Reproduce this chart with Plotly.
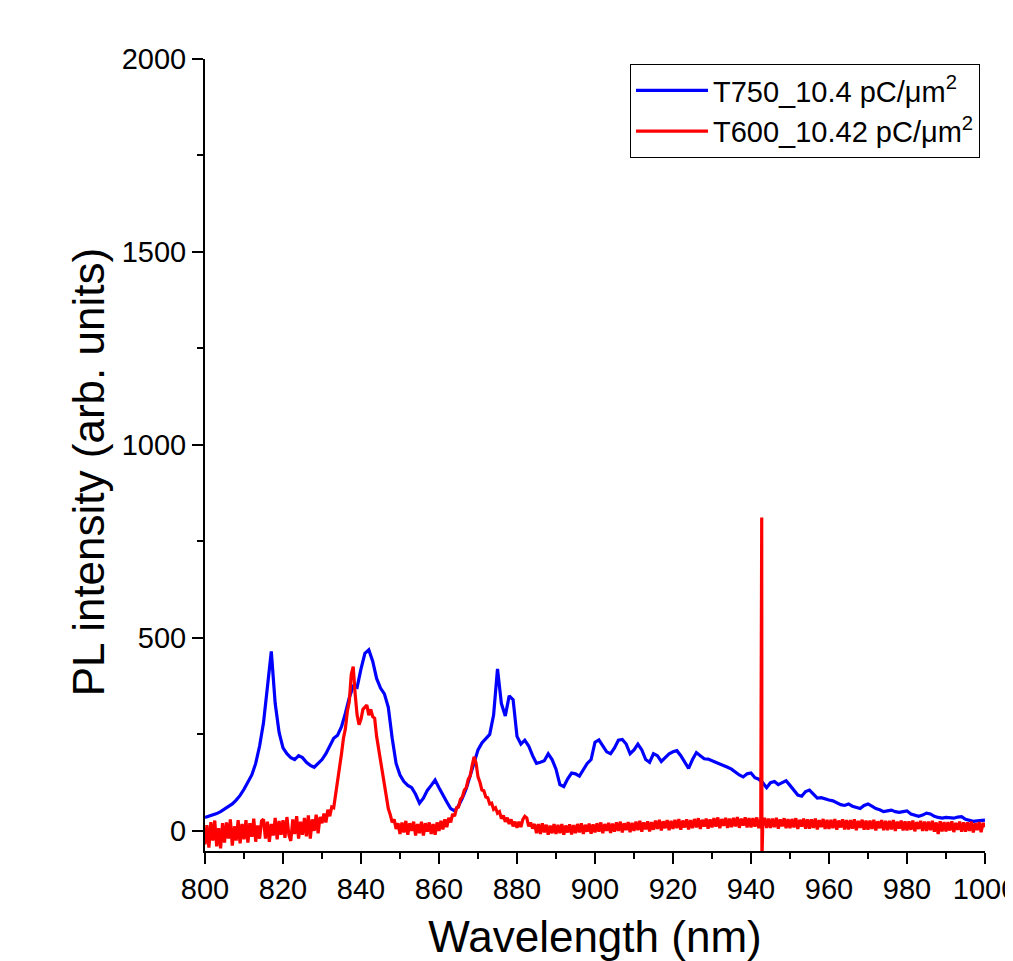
import plotly.graph_objects as go

# ---------------- data ----------------
blue_name = "T750_10.4 pC/\u03bcm<sup>2</sup>"
red_name = "T600_10.42 pC/\u03bcm<sup>2</sup>"
x_title = "Wavelength (nm)"
y_title = "PL intensity (arb. units)"

# T750 spectrum, sampled every 1 nm from 800 to 1000 nm
blue_wl = list(range(800, 1001))
blue_int = [
    35, 38, 42, 45, 50, 56, 62, 70, 80, 92,
    108, 125, 145, 175, 220, 280, 380, 465, 330, 255,
    215, 200, 190, 185, 195, 190, 178, 170, 165, 175,
    185, 200, 220, 240, 248, 270, 305, 345, 375, 372,
    420, 460, 469, 440, 395, 370, 355, 320, 240, 175,
    145, 128, 118, 112, 95, 72, 85, 105, 118, 132,
    112, 92, 75, 58, 52, 65, 85, 110, 145, 180,
    210, 228, 238, 250, 300, 420, 330, 298, 350, 340,
    245, 225, 235, 220, 195, 175, 178, 182, 200, 185,
    160, 120, 115, 135, 150, 148, 142, 160, 175, 185,
    230, 236, 220, 205, 200, 215, 235, 237, 225, 200,
    210, 225, 210, 185, 178, 200, 195, 180, 190, 200,
    205, 208, 195, 180, 162, 185, 203, 195, 187, 186,
    182, 178, 175, 170, 165, 160, 152, 145, 140, 148,
    150, 138, 134, 125, 112, 125, 128, 120, 125, 130,
    118, 105, 93, 90, 102, 106, 95, 85, 86, 82,
    80, 78, 72, 68, 66, 70, 64, 60, 58, 66,
    70, 64, 58, 55, 50, 52, 54, 50, 48, 50,
    52, 44, 40, 38, 41, 46, 44, 38, 35, 33,
    35, 34, 33, 36, 37, 30, 27, 25, 26, 27,
    28,
]

# T600 spectrum, sampled every 0.5 nm from 800 to 1000 nm
red_wl = [800 + 0.5 * i for i in range(401)]
red_int = [
    -35, 15, -43, 23, -25, 27, -40, 7, -45, 20,
    -30, 22, -20, 30, -38, 12, -25, 28, -32, 18,
    -22, 28, -30, 20, -15, 32, -28, 14, -20, 26,
    30, -20, 24, -28, 18, -12, 34, -22, 26, -10,
    28, -18, 36, -10, -26, 30, -8, 38, -20, 24,
    -10, 34, -14, 40, -20, 30, 0, 42, -6, 36,
    20, 45, 22, 55, 38, 62, 60, 95, 118, 165,
    200, 240, 265, 310, 335, 405, 426, 355, 300, 275,
    290, 315, 322, 326, 300, 315, 296, 292, 245, 212,
    178, 152, 118, 92, 58, 42, 22, 30, 5, 20,
    -8, 22, -4, 26, -10, 20, 0, 24, -12, 18,
    -6, 24, -12, 20, -2, 22, -8, 18, -10, 22,
    0, 26, 4, 30, 10, 34, 22, 44, 38, 60,
    62, 82, 88, 106, 112, 134, 142, 170, 192, 176,
    140, 126, 106, 104, 88, 86, 70, 72, 56, 60,
    46, 50, 32, 40, 24, 34, 18, 30, 12, 24,
    8, 24, 10, 30, 38, 34, 12, 22, 6, 18,
    -6, 18, -8, 20, -4, 16, -10, 14, -6, 18,
    -8, 16, -6, 18, -10, 14, -4, 17, -9, 15,
    -6, 18, -4, 20, -8, 16, -2, 19, -7, 17,
    -4, 20, -2, 22, -6, 18, 0, 21, -5, 19,
    -2, 22, 0, 24, -4, 20, 2, 23, -3, 21,
    0, 24, 2, 26, -2, 22, 4, 25, -1, 23,
    3, 27, 5, 29, 1, 25, 7, 28, 2, 26,
    5, 29, 7, 31, 3, 27, 9, 30, 4, 28,
    7, 31, 9, 33, 5, 29, 11, 32, 6, 30,
    9, 33, 11, 35, 7, 31, 13, 34, 8, 32,
    10, 34, 12, 36, 8, 32, 14, 35, 9, 33,
    9, 33, 11, 35, 7, 31, 13, 34, 8, 32,
    8, 32, 10, 34, 6, 30, 12, 33, 7, 31,
    7, 31, 9, 33, 5, 29, 11, 32, 6, 30,
    6, 30, 8, 32, 4, 28, 10, 31, 5, 29,
    5, 29, 7, 31, 3, 27, 9, 30, 4, 28,
    4, 28, 6, 30, 2, 26, 8, 29, 3, 27,
    3, 27, 5, 29, 1, 25, 7, 28, 2, 26,
    2, 26, 4, 28, 0, 24, 6, 27, 1, 25,
    1, 25, 3, 27, -1, 23, 5, 26, 0, 24,
    0, 24, 2, 26, -2, 22, -8, 25, -1, 23,
    -1, 23, 1, 25, -3, 21, 3, 24, -2, 22,
    -2, 22, 0, 24, -4, 20, 2, 23, -3, 21,
    10,
]

# narrow spike in the T600 spectrum
spike_wl = [942.7, 942.75, 942.8]
spike_int = [810, 812, -80]

x_ticks = list(range(800, 1001, 20))
y_ticks = [0, 500, 1000, 1500, 2000]

# merge spike into red series
red_all = sorted(zip(red_wl + spike_wl, red_int + spike_int), key=lambda p: p[0])
red_x = [p[0] for p in red_all]
red_y = [p[1] for p in red_all]

FONT = "Arial, Liberation Sans, sans-serif"

fig = go.Figure()
fig.add_trace(go.Scatter(x=blue_wl, y=blue_int, mode="lines", name=blue_name,
                         line=dict(color="#0000FF", width=3.2)))
fig.add_trace(go.Scatter(x=red_x, y=red_y, mode="lines", name=red_name,
                         line=dict(color="#FF0000", width=3.2)))

axis_common = dict(
    showline=True, linecolor="black", linewidth=2,
    ticks="outside", tickcolor="black", tickwidth=2, ticklen=11,
    showgrid=False, zeroline=False, mirror=False, automargin=False,
    ticklabeloverflow="allow",
    tickfont=dict(family=FONT, size=29, color="black"),
)

# page body adds an 8px offset, so the figure is sized to fit inside the window
fig.update_layout(
    width=1005, height=953,
    margin=dict(l=197, r=28, t=51, b=110),
    paper_bgcolor="white", plot_bgcolor="white",
    font=dict(family=FONT, color="black"),
    xaxis=dict(range=[800, 1000.0001], tickvals=x_ticks,
               minor=dict(dtick=10, ticks="outside", ticklen=6, tickwidth=2, tickcolor="black"),
               title=dict(text=x_title, font=dict(family=FONT, size=44), standoff=22),
               **axis_common),
    yaxis=dict(range=[-52, 2000], tickvals=y_ticks,
               minor=dict(dtick=250, ticks="outside", ticklen=6, tickwidth=2, tickcolor="black"),
               **axis_common),
    legend=dict(x=0.9936, y=0.9937, xanchor="right", yanchor="top",
                bordercolor="black", borderwidth=1, bgcolor="white",
                font=dict(family=FONT, size=29, color="black"),
                itemwidth=72, tracegroupgap=0),
    showlegend=True,
    annotations=[dict(text=y_title, textangle=-90, showarrow=False,
                      xref="paper", yref="paper", x=-0.1497, y=0.4785,
                      xanchor="center", yanchor="middle",
                      font=dict(family=FONT, size=44, color="black"))],
)

fig.write_html("out.html")
